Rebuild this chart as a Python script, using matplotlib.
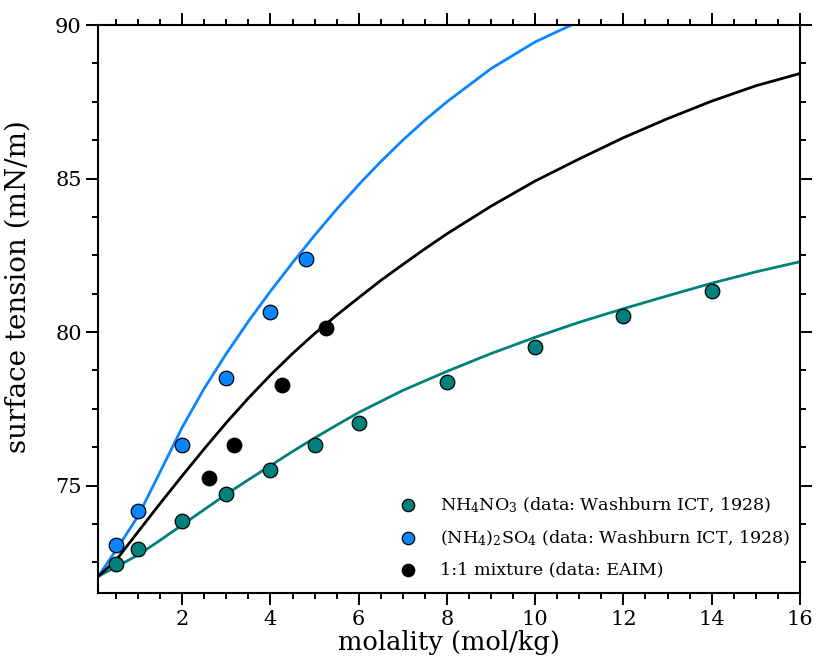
import matplotlib
matplotlib.use("Agg")
import matplotlib.pyplot as plt
from matplotlib.ticker import MultipleLocator

# measured points
nitrate_m = [0.5, 1, 2, 3, 4, 5, 6, 8, 10, 12, 14]
nitrate_st = [72.46, 72.95, 73.85, 74.73, 75.51, 76.31, 77.04, 78.36, 79.50, 80.51, 81.33]

sulfate_m = [0.5, 1, 2, 3, 4, 4.8]
sulfate_st = [73.08, 74.16, 76.33, 78.49, 80.65, 82.37]

mix_m = [2.6, 3.18, 4.25, 5.26]
mix_st = [75.25, 76.33, 78.29, 80.14]

# model curves
nitrate_fit_m = [0.1, 0.5, 1, 1.5, 2, 2.5, 3, 3.5, 4, 4.5, 5, 5.5, 6, 7, 8, 9, 10, 11, 12, 13, 14, 15, 16]
nitrate_fit_st = [72.05, 72.35, 72.74, 73.22, 73.72, 74.22, 74.72, 75.19, 75.65, 76.11, 76.55,
                  76.97, 77.38, 78.1, 78.72, 79.3, 79.83, 80.32, 80.76, 81.18, 81.59, 81.96, 82.29]

sulfate_fit_m = [0.1, 0.5, 1, 1.5, 2, 2.5, 3, 3.5, 4, 4.5, 5, 5.5, 6, 6.5, 7, 7.5, 8, 9, 10, 11, 12]
sulfate_fit_st = [72.05, 72.9, 74.01, 75.45, 76.9, 78.17, 79.3, 80.35, 81.33, 82.26, 83.15,
                  84.0, 84.8, 85.55, 86.25, 86.9, 87.5, 88.58, 89.45, 90.12, 90.7]

mix_fit_m = [0.1, 0.5, 1, 1.5, 2, 2.5, 3, 3.5, 4, 4.5, 5, 5.5, 6, 6.5, 7, 7.5, 8, 9, 10, 11, 12,
             13, 14, 15, 16]
mix_fit_st = [72.05, 72.57, 73.5, 74.42, 75.32, 76.2, 77.05, 77.85, 78.6, 79.3, 79.95, 80.55,
              81.12, 81.68, 82.2, 82.71, 83.2, 84.1, 84.92, 85.64, 86.33, 86.95, 87.52, 88.02, 88.42]

teal = "#00807a"
blue = "#0a85ff"

plt.rcParams["font.family"] = ["DejaVu Serif"]
plt.rcParams["mathtext.fontset"] = "dejavuserif"

fig = plt.figure(figsize=(8.17, 6.71), dpi=100)
ax = fig.add_axes([0.1205, 0.1162, 0.8585, 0.8465])

ax.plot(nitrate_fit_m, nitrate_fit_st, color=teal, lw=2.0, zorder=2)
ax.plot(sulfate_fit_m, sulfate_fit_st, color=blue, lw=2.0, zorder=2)
ax.plot(mix_fit_m, mix_fit_st, color="black", lw=2.0, zorder=2)

ax.scatter(nitrate_m, nitrate_st, s=110, color=teal, edgecolor="black", lw=0.9, zorder=3,
           label=r"NH$_4$NO$_3$ (data: Washburn ICT, 1928)")
ax.scatter(sulfate_m, sulfate_st, s=110, color=blue, edgecolor="black", lw=0.9, zorder=3,
           label=r"(NH$_4$)$_2$SO$_4$ (data: Washburn ICT, 1928)")
ax.scatter(mix_m, mix_st, s=110, color="black", edgecolor="black", lw=0.9, zorder=3,
           label="1:1 mixture (data: EAIM)")

ax.set_xlim(0.1, 16)
ax.set_ylim(71.5, 90)
ax.xaxis.set_major_locator(MultipleLocator(2))
ax.xaxis.set_minor_locator(MultipleLocator(0.5))
ax.yaxis.set_major_locator(MultipleLocator(5))
ax.yaxis.set_minor_locator(MultipleLocator(1.25))

ax.tick_params(which="both", direction="out", top=True, right=True, width=1.4, labelsize=15)
ax.tick_params(which="major", length=8.5)
ax.tick_params(which="minor", length=4.3)
for s in ax.spines.values():
    s.set_linewidth(1.5)

ax.set_xlabel("molality (mol/kg)", fontsize=18.5, labelpad=1)
ax.set_ylabel("surface tension (mN/m)", fontsize=20)
ax.yaxis.set_label_coords(-0.095, 0.54)

ax.legend(loc="lower right", bbox_to_anchor=(1.011, -0.005), frameon=False, fontsize=12.6,
          handletextpad=0.85, labelspacing=0.78, borderaxespad=0.6, scatterpoints=1,
          markerscale=0.85)

fig.savefig("out.png", dpi=100)
